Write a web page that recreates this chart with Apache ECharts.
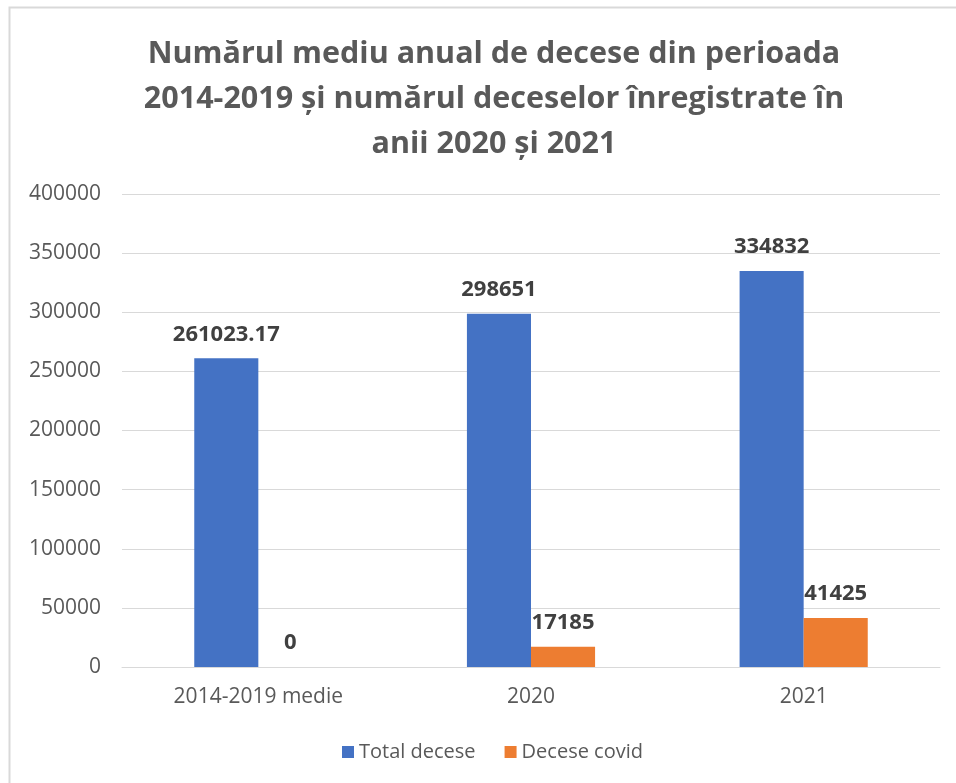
<!DOCTYPE html>
<html>
<head>
<meta charset="utf-8">
<script src="https://cdn.jsdelivr.net/npm/echarts@6/dist/echarts.min.js"></script>
<style>
	html, body { margin: 0; padding: 0; background: #fff; }
	#chart { width: 956px; height: 783px; }
</style>
</head>
<body>
<div id="chart"></div>
<script>
	// date
	const categories = ['2014-2019 medie', '2020', '2021'];
	const totalDecese = [261023.17, 298651, 334832];
	const deceseCovid = [0, 17185, 41425];
	const seriesNames = ['Total decese', 'Decese covid'];

	const font = 'Open Sans';
	const chart = echarts.init(document.getElementById('chart'));

	const labelStyle = {
		show: true,
		position: 'top',
		distance: 13,
		fontFamily: font,
		fontSize: 22,
		fontWeight: 'bold',
		color: '#404040'
	};

	chart.setOption({
		backgroundColor: '#fff',
		animation: false,
		title: {
			text: 'Numărul mediu anual de decese din perioada\n2014-2019 și numărul deceselor înregistrate în\nanii 2020 și 2021',
			left: 489,
			top: 27,
			textAlign: 'center',
			textStyle: {
				fontFamily: font,
				fontSize: 30.5,
				fontWeight: 'bold',
				color: '#595959',
				lineHeight: 45
			}
		},
		graphic: [{
			type: 'rect',
			shape: { x: 9.5, y: 7.5, width: 960, height: 800 },
			style: { fill: 'none', stroke: '#d9d9d9', lineWidth: 2 },
			silent: true
		}],
		legend: {
			top: 737,
			left: 337,
			itemWidth: 12,
			itemHeight: 12,
			itemGap: 29,
			icon: 'rect',
			textStyle: { fontFamily: font, fontSize: 20, color: '#595959' },
			data: seriesNames
		},
		grid: {
			left: 122,
			right: 16,
			top: 194,
			bottom: 116,
			containLabel: false
		},
		xAxis: {
			type: 'category',
			data: categories,
			axisLine: { show: true, lineStyle: { color: '#d9d9d9', width: 1 } },
			axisTick: { show: false },
			axisLabel: {
				fontFamily: font,
				fontSize: 21,
				color: '#595959',
				margin: 20
			}
		},
		yAxis: {
			type: 'value',
			min: 0,
			max: 400000,
			interval: 50000,
			axisLine: { show: false },
			axisTick: { show: false },
			axisLabel: {
				fontFamily: font,
				fontSize: 21,
				color: '#595959',
				margin: 21,
				formatter: v => String(v)
			},
			splitLine: { lineStyle: { color: '#d9d9d9', width: 1 } }
		},
		series: [
			{
				name: seriesNames[0],
				type: 'bar',
				data: totalDecese,
				barGap: '0%',
				barCategoryGap: '53%',
				itemStyle: { color: '#4472c4' },
				label: labelStyle
			},
			{
				name: seriesNames[1],
				type: 'bar',
				data: deceseCovid,
				itemStyle: { color: '#ed7d31' },
				label: labelStyle
			}
		]
	});
</script>
</body>
</html>
